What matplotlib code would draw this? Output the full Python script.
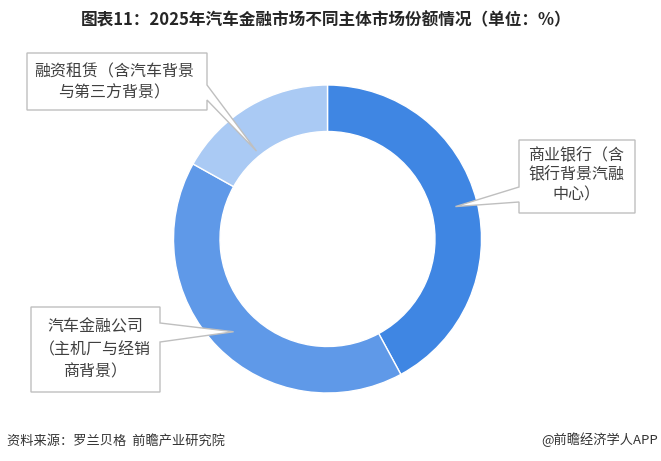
import matplotlib
matplotlib.use("Agg")
import matplotlib.pyplot as plt
import numpy as np
from matplotlib.patches import Polygon

plt.rcParams['font.family'] = ['Noto Sans CJK SC', 'DejaVu Sans']

# ---- data ----
categories = ["商业银行（含银行背景汽融中心）", "汽车金融公司（主机厂与经销商背景）", "融资租赁（含汽车背景与第三方背景）"]
shares = [42.1, 41.0, 16.9]
label_lines = [
    ["商业银行（含", "银行背景汽融", "中心）"],
    ["汽车金融公司", "（主机厂与经销", "商背景）"],
    ["融资租赁（含汽车背景", "与第三方背景）"],
]
colors = ["#3F86E3", "#5F99E8", "#AACAF4"]
title = "图表11：2025年汽车金融市场不同主体市场份额情况（单位：%）"
source = "资料来源：罗兰贝格  前瞻产业研究院"
credit = "@前瞻经济学人APP"

W, H = 661, 461
fig = plt.figure(figsize=(W / 100, H / 100), dpi=100)
ax = fig.add_axes([0, 0, 1, 1])
ax.set_xlim(0, W)
ax.set_ylim(0, H)
ax.axis('off')

def Y(y):
    return H - y

cx, cy = 327.5, 239
R = 154
ring_w = 46.5

ax.pie(shares, startangle=90, counterclock=False, colors=colors, radius=R,
       center=(cx, Y(cy)), frame=False,
       wedgeprops=dict(width=ring_w, edgecolor='white', linewidth=1.0))
ax.set_xlim(0, W)
ax.set_ylim(0, H)
ax.set_aspect('auto')

# callout tip positions: fraction along wedge and radius
tip_frac = [0.5, 0.5, 0.36]
tip_r = [132, 132, 113]
cum = np.cumsum([0] + shares)
tips = []
for i in range(len(shares)):
    ang = (cum[i] + tip_frac[i] * shares[i]) / 100 * 360  # clockwise from top
    th = np.deg2rad(90 - ang)
    tips.append((cx + tip_r[i] * np.cos(th), Y(cy) + tip_r[i] * np.sin(th)))

# callout boxes: (x0, y0, x1, y1) top-down pixel coords
boxes = [
    dict(box=(519, 140, 635, 213), side='left', base=(187, 202), ys=[156, 175, 195], xc=576),
    dict(box=(31, 307, 160, 392), side='right', base=(323, 342), ys=[327, 350, 372], xc=95),
    dict(box=(27, 53, 207, 110), side='right', base=(85, 100), ys=[72, 93], xc=114),
]

for i, b in enumerate(boxes):
    x0, y0, x1, y1 = b['box']
    ba, bb = b['base']
    tx, ty = tips[i]
    if b['side'] == 'right':
        pts = [(x0, Y(y0)), (x1, Y(y0)), (x1, Y(ba)), (tx, ty), (x1, Y(bb)), (x1, Y(y1)), (x0, Y(y1))]
    else:
        pts = [(x0, Y(y0)), (x1, Y(y0)), (x1, Y(y1)), (x0, Y(y1)), (x0, Y(bb)), (tx, ty), (x0, Y(ba))]
    ax.add_patch(Polygon(pts, closed=True, facecolor='white', edgecolor='#BFBFBF', linewidth=1.0, zorder=5))
    for line, yy in zip(label_lines[i], b['ys']):
        ax.text(b['xc'], Y(yy), line, ha='center', va='center', fontsize=11.5,
                color='#404040', zorder=6)

ax.text(326, Y(20), title, ha='center', va='center', fontsize=12, fontweight='bold', color='#262626')
ax.text(7, Y(441), source, ha='left', va='center', fontsize=9.5, color='#333333')
ax.text(658, Y(440), credit, ha='right', va='center', fontsize=9.5, color='#333333')

fig.savefig("out.png", dpi=100)
